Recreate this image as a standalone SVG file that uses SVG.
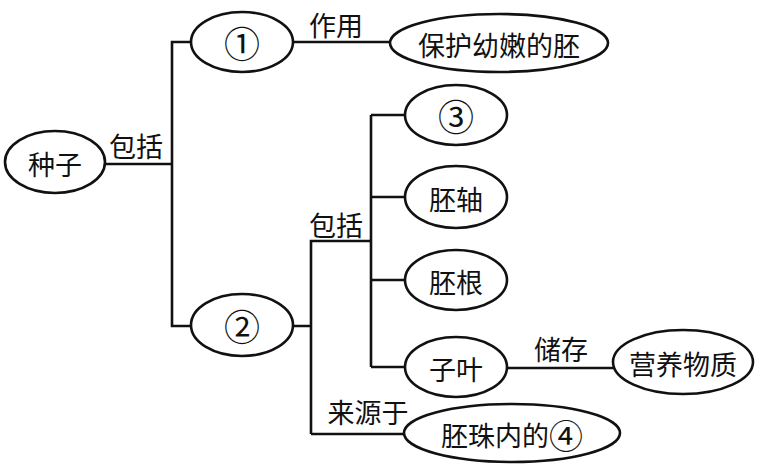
<svg xmlns="http://www.w3.org/2000/svg" width="761" height="467" viewBox="0 0 761 467">
<style>
.n{fill:#fff;stroke:#111;stroke-width:2.6}
.c{fill:none;stroke:#111;stroke-width:2.6}
text{font-family:"Noto Sans CJK SC","Noto Sans CJK JP",sans-serif;font-size:27px;fill:#111;text-anchor:middle;dominant-baseline:central}
.num{font-size:36px}
</style>
<rect width="761" height="467" fill="#fff"/>
<g id="connectors">
<path class="c" d="M105,164H172M191,42H172V326H191"/>
<path class="c" d="M293,42H390"/>
<path class="c" d="M293,326H311M311,434V241H371M371,115V367M371,115H405M371,197H405M371,280H405M371,367H405M311,434H404"/>
<path class="c" d="M507,368H613"/>
<text x="136" y="145">包括</text>
<text x="336" y="224">包括</text>
<text x="336" y="24">作用</text>
<text x="561" y="348">储存</text>
<text x="368" y="411">来源于</text>
</g>
<g id="seed"><ellipse class="n" cx="55" cy="162" rx="50" ry="31"/><text x="55" y="163">种子</text></g>
<g id="n1"><ellipse class="n" cx="242" cy="42" rx="51" ry="30"/><text class="num" x="242" y="42">①</text></g>
<g id="protect"><ellipse class="n" cx="499" cy="43" rx="109" ry="29"/><text x="499" y="44">保护幼嫩的胚</text></g>
<g id="n2"><ellipse class="n" cx="242" cy="325" rx="51" ry="31"/><text class="num" x="242" y="325">②</text></g>
<g id="n3"><ellipse class="n" cx="456" cy="115" rx="51" ry="30"/><text class="num" x="456" y="115">③</text></g>
<g id="peizhou"><ellipse class="n" cx="456" cy="197" rx="51" ry="31"/><text x="456" y="198">胚轴</text></g>
<g id="peigen"><ellipse class="n" cx="456" cy="280" rx="51" ry="30"/><text x="456" y="281">胚根</text></g>
<g id="ziye"><ellipse class="n" cx="456" cy="367" rx="51" ry="30"/><text x="456" y="368">子叶</text></g>
<g id="nutrients"><ellipse class="n" cx="683" cy="362" rx="70" ry="32"/><text x="683" y="363">营养物质</text></g>
<g id="n4"><ellipse class="n" cx="512" cy="433" rx="108" ry="29"/><text x="512" y="434">胚珠内的<tspan font-size="34px">④</tspan></text></g>
</svg>
